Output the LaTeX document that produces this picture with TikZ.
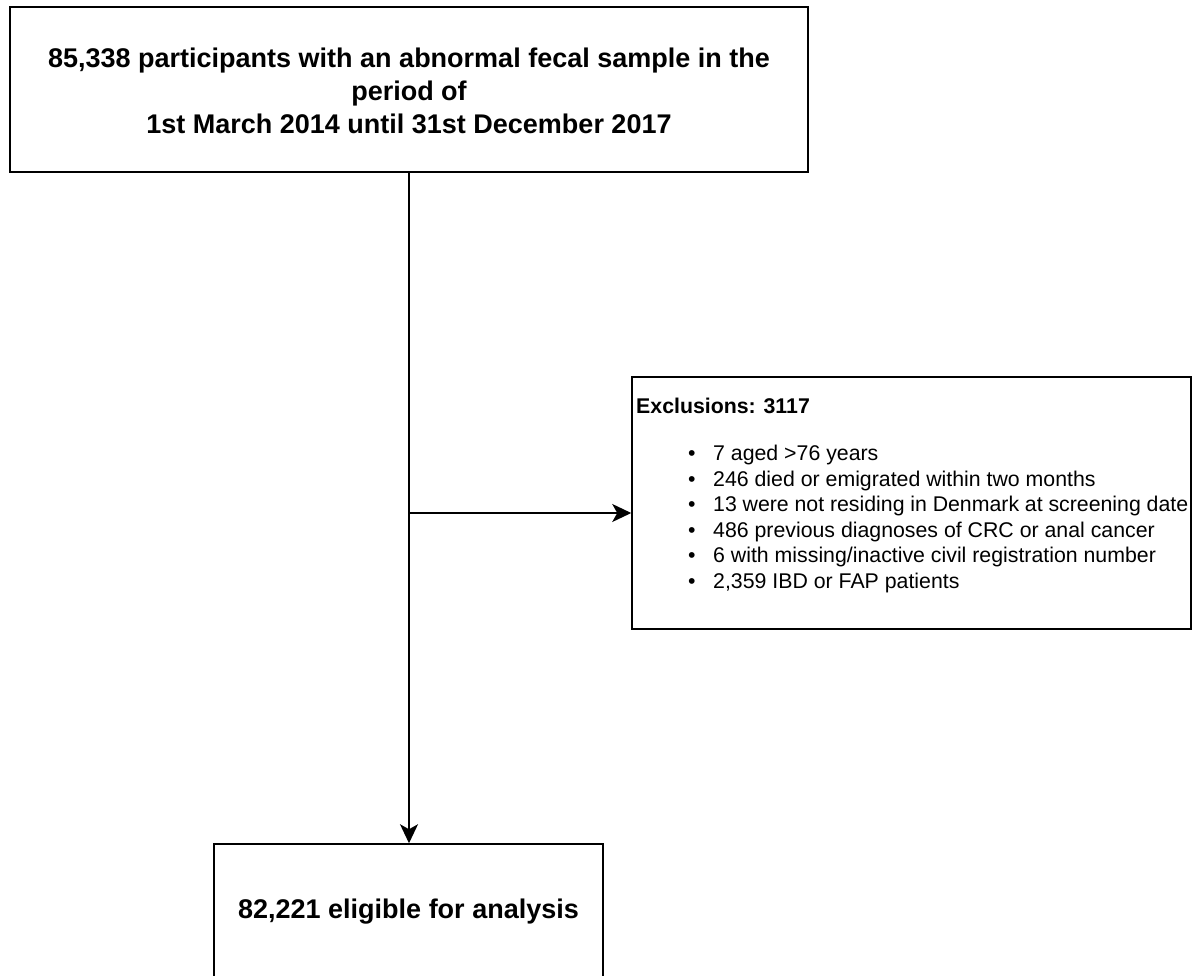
\documentclass[tikz,border=0pt]{standalone}
\usepackage{fontspec}
\setmainfont{Liberation Sans}
\usetikzlibrary{arrows.meta}
\begin{document}
\begin{tikzpicture}[x=1pt,y=-1pt,
  box/.style={draw=black, line width=1.5pt, inner sep=0pt, fill=white},
  bigtext/.style={font=\fontsize{27}{33}\selectfont\bfseries, align=center},
  link/.style={line width=1.6pt, -{Stealth[length=19pt,width=18pt,inset=5pt]}}]
\useasboundingbox (0,0) rectangle (1192,976);
\fill[white] (0,0) rectangle (1192,976);
\node[box,minimum width=798pt,minimum height=165pt] (top) at (409,89.5) {};
\node[bigtext,inner sep=0pt] (toptext) at (409,90.5)
  {85,338 participants with an abnormal fecal sample in the\\ period of\\ 1st March 2014 until 31st December 2017};
\node[box,bigtext,minimum width=389pt,minimum height=136pt] (bot) at (408.5,912)
  {82,221 eligible for analysis};
\node[box,minimum width=559pt,minimum height=252pt] (excl) at (911.5,503) {};
\node[anchor=base west,inner sep=0pt,font=\fontsize{21.3}{25.6}\selectfont\bfseries] (exhead) at (636,413.6) {Exclusions: 3117};
\node[anchor=base west,inner sep=0pt,font=\fontsize{21.3}{25.6}\selectfont] (exlist) at (688,460.6)
  {\parbox[t]{500pt}{\raggedright
  \makebox[25pt][l]{•}7 aged >76 years\\
  \makebox[25pt][l]{•}246 died or emigrated within two months\\
  \makebox[25pt][l]{•}13 were not residing in Denmark at screening date\\
  \makebox[25pt][l]{•}486 previous diagnoses of CRC or anal cancer\\
  \makebox[25pt][l]{•}6 with missing/inactive civil registration number\\
  \makebox[25pt][l]{•}2,359 IBD or FAP patients}};
\coordinate (j) at (409,513);
\draw[link] (top.south) -- (top.south |- bot.north);
\draw[link] (j) -- (j -| excl.west);
\end{tikzpicture}
\end{document}
